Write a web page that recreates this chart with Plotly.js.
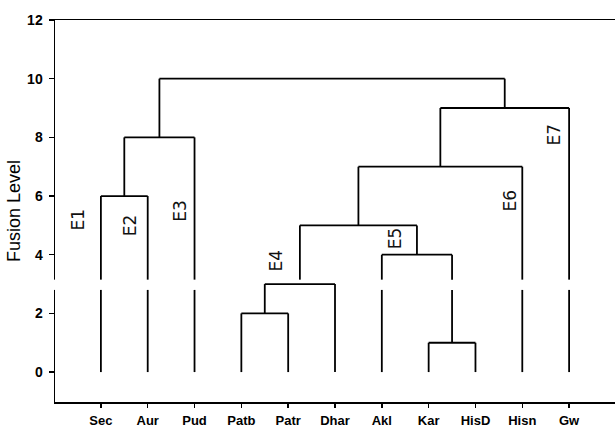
<!DOCTYPE html>
<html>
<head>
<meta charset="utf-8">
<script src="https://cdn.plot.ly/plotly-3.0.1.min.js"></script>
<style>html,body{margin:0;padding:0;background:#fff}#chart{width:616px;height:430px}</style>
</head>
<body>
<div id="chart"></div>
<script>
// Leaves (in dendrogram order)
const leaves = ["Sec","Aur","Pud","Patb","Patr","Dhar","Akl","Kar","HisD","Hisn","Gw"];
// Merges: child A, child B (leaf index 0..10, or 11+ for earlier merges), fusion level
const mergeA = [7, 3, 12, 6, 13, 0, 15, 16, 17, 18];
const mergeB = [8, 4, 5, 11, 14, 1, 9, 2, 10, 19];
const mergeLevel = [1, 2, 3, 4, 5, 6, 7, 8, 9, 10];
// Handwritten cluster annotations
const noteText = ["E1","E2","E3","E4","E5","E6","E7"];
const noteX = [0.49, 1.62, 2.69, 4.74, 7.28, 9.74, 10.68];
const noteY = [5.2, 5.0, 5.5, 3.8, 4.56, 5.85, 8.1];
const yTicks = [0, 2, 4, 6, 8, 10, 12];

const gapLo = 2.8, gapHi = 3.15;
const n = leaves.length;
const pos = [], hgt = [];
for (let i = 0; i < n; i++) { pos.push(i + 1); hgt.push(0); }
const xs = [], ys = [];
function vseg(x, y0, y1) {
  if (y0 < gapLo && y1 > gapHi) {
    xs.push(x, x, null, x, x, null); ys.push(y0, gapLo, null, gapHi, y1, null);
  } else {
    if (y0 >= gapLo && y0 < gapHi) y0 = gapHi;
    xs.push(x, x, null); ys.push(y0, y1, null);
  }
}
for (let k = 0; k < mergeLevel.length; k++) {
  const a = mergeA[k], b = mergeB[k], h = mergeLevel[k];
  vseg(pos[a], hgt[a], h);
  vseg(pos[b], hgt[b], h);
  xs.push(pos[a], pos[b], null); ys.push(h, h, null);
  pos.push((pos[a] + pos[b]) / 2); hgt.push(h);
}

const traces = [{
  x: xs, y: ys, type: 'scatter', mode: 'lines',
  line: {color: '#000', width: 1.8}, hoverinfo: 'skip', showlegend: false
}];

const annotations = noteText.map((t, i) => ({
  x: noteX[i], y: noteY[i], xref: 'x', yref: 'y', text: t, showarrow: false,
  textangle: -90, font: {family: 'DejaVu Sans', size: 17, color: '#111'}
}));

const layout = {
  width: 616, height: 430,
  margin: {l: 55, r: 1, t: 20, b: 28},
  paper_bgcolor: '#fff', plot_bgcolor: '#fff',
  showlegend: false,
  xaxis: {
    range: [0.02, 11.98], tickmode: 'array',
    tickvals: leaves.map((_, i) => i + 1), ticktext: leaves,
    showgrid: false, zeroline: false, showline: true, mirror: true,
    linecolor: '#000', linewidth: 1.5, ticks: 'outside', ticklen: 4,
    tickcolor: '#000', tickwidth: 1.5, ticklabelstandoff: 2,
    tickfont: {family: 'Liberation Sans', size: 13, color: '#000', weight: 'bold'}
  },
  yaxis: {
    range: [-1.02, 12], tickmode: 'array', tickvals: yTicks,
    showgrid: false, zeroline: false, showline: true, mirror: false,
    linecolor: '#000', linewidth: 1.5, ticks: 'outside', ticklen: 5,
    tickcolor: '#000', tickwidth: 1.5, ticklabelstandoff: 3,
    tickfont: {family: 'Liberation Sans', size: 14, color: '#000', weight: 'bold'},
    title: {text: 'Fusion Level', font: {family: 'Liberation Sans', size: 18, color: '#000'}, standoff: 2}
  },
  shapes: [{
    type: 'rect', xref: 'paper', yref: 'y', x0: -0.006, x1: 0.006,
    y0: gapLo, y1: gapHi, fillcolor: '#fff', line: {width: 0}, layer: 'above'
  }],
  annotations: annotations
};
Plotly.newPlot('chart', traces, layout, {displayModeBar: false, staticPlot: true});
</script>
</body>
</html>
